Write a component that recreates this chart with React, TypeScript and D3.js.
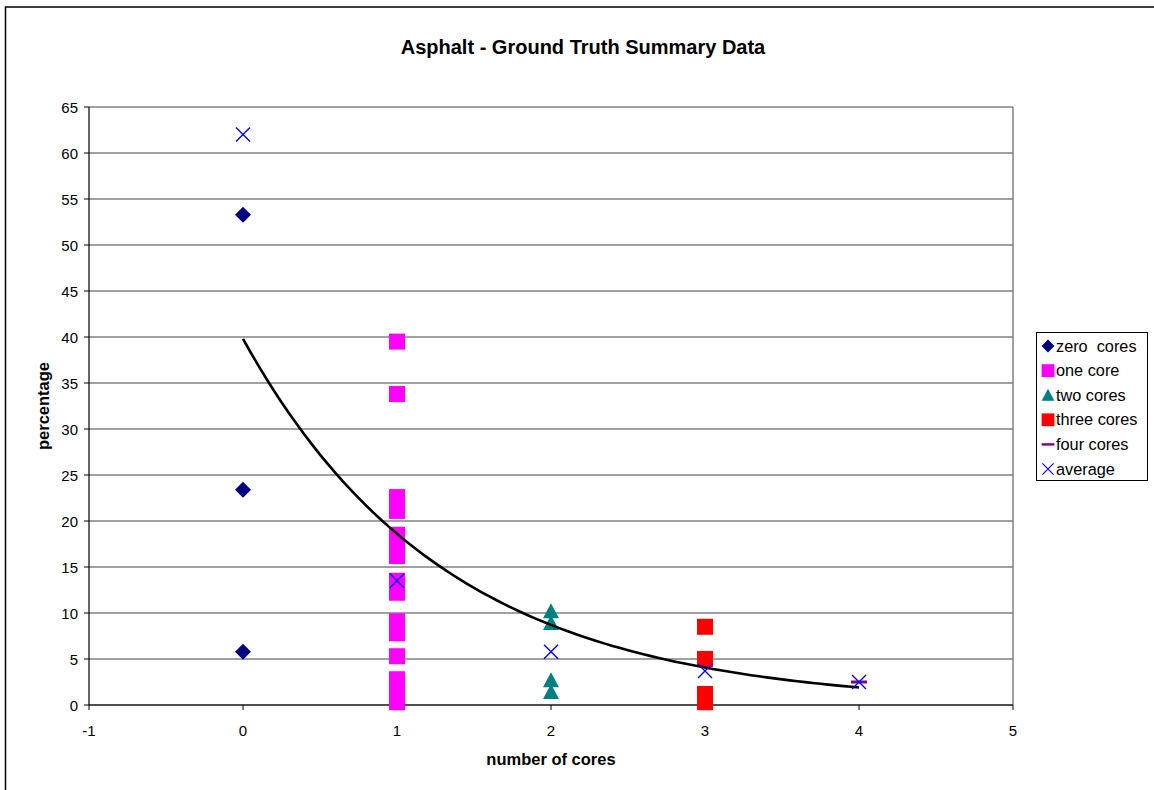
import React from "react";
import * as d3 from "d3";

// values
const zeroCores = [53.3, 23.4, 5.8];
const oneCore = [39.5, 33.8, 22.6, 21.1, 18.5, 17.4, 16.2, 13.5, 12.2, 9.1, 7.8, 5.3, 2.8, 1.5, 0.3];
const twoCores = [10.2, 8.9, 2.7, 1.4];
const threeCores = [8.5, 5.0, 1.2, 0.3];
const fourCores = [2.5];
const averages = [
  { x: 0, y: 62.0 },
  { x: 1, y: 13.5 },
  { x: 2, y: 5.8 },
  { x: 3, y: 3.7 },
  { x: 4, y: 2.5 },
];
// exponential trendline y = a * exp(b * x), drawn from x=0 to x=4
const trendA = 39.8;
const trendB = -0.76;
const trendXs = d3.range(0, 4.001, 0.05);

const xTicks = [-1, 0, 1, 2, 3, 4, 5];
const yTicks = [0, 5, 10, 15, 20, 25, 30, 35, 40, 45, 50, 55, 60, 65];
const legendItems = ["zero  cores", "one core", "two cores", "three cores", "four cores", "average"];

const font = "Arial, 'Liberation Sans', sans-serif";

const plot = { left: 89, right: 1013, top: 107, bottom: 705 };

function Marker({ kind, cx, cy }: { kind: number; cx: number; cy: number }) {
  if (kind === 0) {
    const r = 8;
    return <path d={`M${cx},${cy - r}L${cx + r},${cy}L${cx},${cy + r}L${cx - r},${cy}Z`} fill="#000080" />;
  }
  if (kind === 1) return <rect x={cx - 8} y={cy - 8} width={16} height={16} fill="#FF00FF" />;
  if (kind === 2) {
    return <path d={`M${cx},${cy - 8}L${cx + 8},${cy + 7}L${cx - 8},${cy + 7}Z`} fill="#008080" />;
  }
  if (kind === 3) return <rect x={cx - 8} y={cy - 8} width={16} height={16} fill="#FF0000" />;
  if (kind === 4) return <rect x={cx - 8} y={cy - 1.5} width={16} height={3} fill="#800080" />;
  const r = 7;
  return (
    <path
      d={`M${cx - r},${cy - r}L${cx + r},${cy + r}M${cx - r},${cy + r}L${cx + r},${cy - r}`}
      stroke="#0000FF"
      strokeWidth={1.4}
      fill="none"
    />
  );
}

export default function App() {
  const x = d3.scaleLinear().domain([-1, 5]).range([plot.left, plot.right]);
  const y = d3.scaleLinear().domain([0, 65]).range([plot.bottom, plot.top]);

  const trend = d3
    .line<number>()
    .x((d) => x(d))
    .y((d) => y(trendA * Math.exp(trendB * d)))(trendXs);

  const groups = [zeroCores, oneCore, twoCores, threeCores, fourCores];

  return (
    <div style={{ position: "absolute", left: 0, top: 0 }}>
      <svg width={1154} height={790} style={{ display: "block", fontFamily: font }}>
        <rect x={0} y={0} width={1154} height={790} fill="#fff" />
        <rect x={5.5} y={7} width={1200} height={850} fill="none" stroke="#000" strokeWidth={1.5} />

        <text x={583} y={54} textAnchor="middle" fontSize={20} fontWeight="bold">
          Asphalt - Ground Truth Summary Data
        </text>

        {/* grid */}
        {yTicks.map((t) => (
          <line key={t} x1={plot.left} x2={plot.right} y1={y(t)} y2={y(t)} stroke="#808080" strokeWidth={1.3} />
        ))}
        <line x1={plot.right} x2={plot.right} y1={plot.top} y2={plot.bottom} stroke="#808080" strokeWidth={1.5} />

        {/* axes */}
        <line x1={plot.left} x2={plot.left} y1={plot.top} y2={plot.bottom} stroke="#000" strokeWidth={1.2} />
        <line x1={plot.left} x2={plot.right} y1={plot.bottom} y2={plot.bottom} stroke="#000" strokeWidth={1.2} />
        {yTicks.map((t) => (
          <g key={t}>
            <line x1={plot.left - 5} x2={plot.left} y1={y(t)} y2={y(t)} stroke="#000" />
            <text x={78} y={y(t) + 5.5} textAnchor="end" fontSize={15}>
              {t}
            </text>
          </g>
        ))}
        {xTicks.map((t) => (
          <g key={t}>
            <line x1={x(t)} x2={x(t)} y1={plot.bottom} y2={plot.bottom + 5} stroke="#000" />
            <text x={x(t)} y={736} textAnchor="middle" fontSize={15}>
              {t}
            </text>
          </g>
        ))}

        <text x={551} y={765} textAnchor="middle" fontSize={16.5} fontWeight="bold">
          number of cores
        </text>
        <text
          transform={`translate(49,${(plot.top + plot.bottom) / 2}) rotate(-90)`}
          textAnchor="middle"
          fontSize={16.5}
          fontWeight="bold"
        >
          percentage
        </text>

        {/* data */}
        {groups.map((vals, gi) =>
          vals.map((v, i) => <Marker key={`${gi}-${i}`} kind={gi} cx={x(gi)} cy={y(v)} />)
        )}
        <path d={trend ?? ""} fill="none" stroke="#000" strokeWidth={2.6} />
        {averages.map((d, i) => (
          <Marker key={`a${i}`} kind={5} cx={x(d.x)} cy={y(d.y)} />
        ))}

        {/* legend */}
        <rect x={1036.5} y={332.5} width={111} height={148} fill="#fff" stroke="#000" strokeWidth={1} />
        {legendItems.map((name, i) => {
          const ly = 346 + i * 24.6;
          return (
            <g key={name}>
              <g transform={`translate(${1048},${ly}) scale(0.8) translate(${-1048},${-ly})`}>
                <Marker kind={i} cx={1048} cy={ly} />
              </g>
              <text x={1056} y={ly + 5.5} fontSize={16.3} style={{ whiteSpace: "pre" }}>
                {name}
              </text>
            </g>
          );
        })}
      </svg>
    </div>
  );
}
